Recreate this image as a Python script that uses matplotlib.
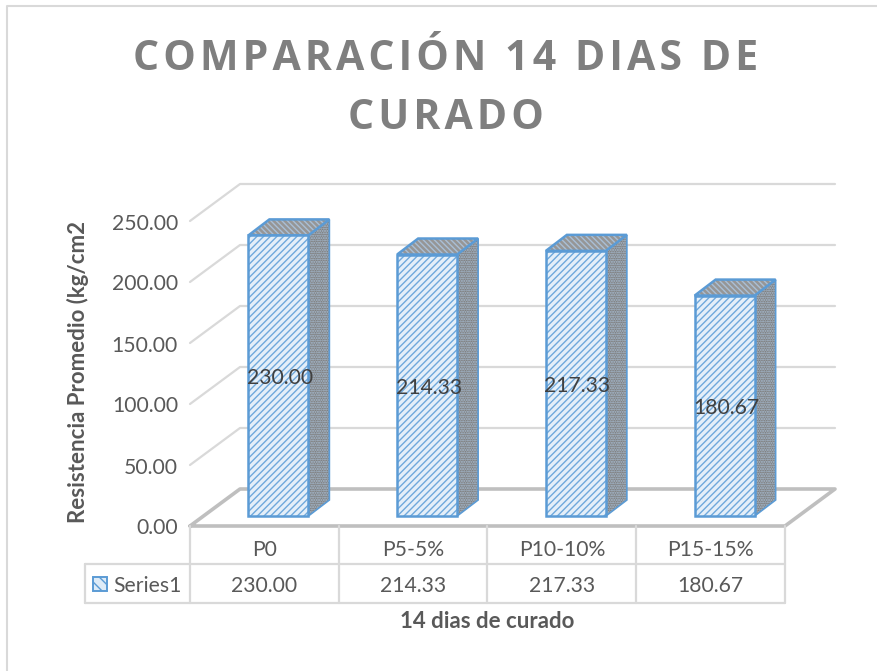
import matplotlib
matplotlib.use('Agg')
import matplotlib.pyplot as plt
from matplotlib.lines import Line2D
from matplotlib.patches import Polygon, Rectangle

# --- DATA ---
categories = ['P0', 'P5-5%', 'P10-10%', 'P15-15%']
series_name = 'Series1'
values = [230.00, 214.33, 217.33, 180.67]
y_ticks = [0, 50, 100, 150, 200, 250]
title_lines = ['COMPARACIÓN 14 DIAS DE', 'CURADO']
y_label = 'Resistencia Promedio (kg/cm2'
x_label = '14 dias de curado'

# --- STYLE ---
W, H = 878, 671
TEXT = '#595959'
GRID = '#D9D9D9'
FLOOR = '#BFBFBF'
BLUE = '#5B9BD5'
FS = 15.2
plt.rcParams['font.family'] = ['Lato', 'DejaVu Sans']
plt.rcParams['hatch.linewidth'] = 1.0

fig = plt.figure(figsize=(W / 100, H / 100), dpi=100)
# front plane of the 3d box, in figure pixels
left, right, bottom, top = 190, 785, 526, 221
ax = fig.add_axes([left / W, 1 - bottom / H, (right - left) / W, (bottom - top) / H])
ax.set_xlim(0, len(categories))
ax.set_ylim(y_ticks[0], y_ticks[-1])
ax.axis('off')

px_x = len(categories) / (right - left)     # data units per pixel
px_y = y_ticks[-1] / (bottom - top)
wall_dx, wall_dy = 50 * px_x, 37 * px_y     # depth of the box
bar_dx, bar_dy = 21 * px_x, 16 * px_y       # depth of a bar
gap_dx, gap_dy = 14 * px_x, 10 * px_y       # bar sits a bit behind the front edge
bar_w = 60 * px_x
txt_dy = -2.5 * px_y                        # lato sits high compared to the original


def line(xs, ys, color=GRID, lw=1.6):
    ax.plot(xs, ys, color=color, lw=lw, clip_on=False, solid_capstyle='round', zorder=1)


def hatched(pts, face, hatch_col, hatch, lw, z):
    # hatch and outline need different colours so they are two patches
    ax.add_patch(Polygon(pts, closed=True, facecolor=face, edgecolor=hatch_col, hatch=hatch,
                         lw=0, clip_on=False, zorder=z))
    ax.add_patch(Polygon(pts, closed=True, fill=False, edgecolor=BLUE, lw=lw,
                         clip_on=False, zorder=z))


# chart border, open on the right like the cropped original
fig.add_artist(Line2D([1, 7.5 / W, 7.5 / W], [1 - 6 / H, 1 - 6 / H, 0], color=GRID, lw=1.5))

# gridlines on side and back wall
n = len(categories)
for t in y_ticks[1:]:
    line([0, wall_dx, n + wall_dx], [t, t + wall_dy, t + wall_dy])
# floor
line([0, n, n + wall_dx, wall_dx, 0],
     [0, 0, wall_dy, wall_dy, 0], color=FLOOR, lw=2.6)

# bars
for i, v in enumerate(values):
    x0 = i + 0.5 - bar_w / 2 + gap_dx
    x1 = x0 + bar_w
    y0 = gap_dy
    y1 = gap_dy + v
    side = [(x1, y0), (x1 + bar_dx, y0 + bar_dy), (x1 + bar_dx, y1 + bar_dy), (x1, y1)]
    roof = [(x0, y1), (x0 + bar_dx, y1 + bar_dy), (x1 + bar_dx, y1 + bar_dy), (x1, y1)]
    hatched(side, '#7F7F7F', '#A9BFD6', '.......', 1.2, 3)
    hatched(roof, '#969696', '#A9BFD6', '\\\\\\\\\\\\', 1.8, 3)
    hatched([(x0, y0), (x1, y0), (x1, y1), (x0, y1)], '#E4EFF9', '#6FA8DC', '/////', 1.8, 4)
    ax.text((x0 + x1) / 2 + 1.5 * px_x, y0 + v / 2 + txt_dy, f'{v:.2f}', ha='center', va='center',
            fontsize=FS, color='#404040', zorder=5)

# y tick labels
for t in y_ticks:
    ax.text(-12 * px_x, t + txt_dy, f'{t:.2f}', ha='right', va='center', fontsize=FS, color=TEXT)

# data table
row1 = -38 * px_y
row2 = -77 * px_y
tab_left = -105 * px_x
for i in range(n + 1):
    line([i, i], [0, row2])
line([tab_left, n], [row1, row1])
line([tab_left, n], [row2, row2])
line([tab_left, tab_left], [row1, row2])
for i, (c, v) in enumerate(zip(categories, values)):
    ax.text(i + 0.5, row1 / 2 + txt_dy - 3 * px_y, c, ha='center', va='center', fontsize=FS, color=TEXT)
    ax.text(i + 0.5, (row1 + row2) / 2 + txt_dy, f'{v:.2f}', ha='center', va='center',
            fontsize=FS, color=TEXT)
ax.add_patch(Rectangle((-97 * px_x, (row1 + row2) / 2 - 7 * px_y), 14 * px_x, 14 * px_y,
                       facecolor='#DEEBF7', edgecolor=BLUE, hatch='\\\\\\', lw=1.4,
                       clip_on=False))
ax.text(-8 * px_x, (row1 + row2) / 2 + txt_dy, series_name, ha='right', va='center',
        fontsize=FS, color=TEXT)

# titles, hair spaces give the wide letter spacing of the original
title = '\n'.join('\u200a'.join(s) for s in title_lines)
fig.text(446 / W, 1 - 89 / H, title, ha='center', va='center', fontsize=29.5,
         fontweight='bold', color='#7F7F7F', linespacing=1.55, family=['Open Sans', 'DejaVu Sans'])
fig.text(78 / W, 1 - 372 / H, y_label, rotation=90, ha='center', va='center',
         fontsize=16, fontweight='bold', color=TEXT)
fig.text(487 / W, 1 - 622 / H, x_label, ha='center', va='center',
         fontsize=16, fontweight='bold', color=TEXT)

fig.savefig('out.png', dpi=100)
